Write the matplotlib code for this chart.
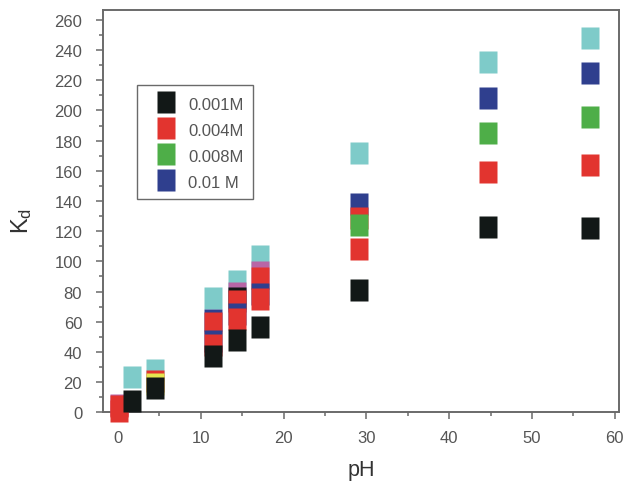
import numpy as np
import matplotlib
matplotlib.use("Agg")
import matplotlib.pyplot as plt
from matplotlib.lines import Line2D

plt.rcParams['font.family'] = ['Liberation Sans', 'DejaVu Sans']
plt.rcParams['mathtext.default'] = 'regular'

nan = np.nan
ph = [0.1, 1.7, 4.5, 11.5, 14.4, 17.2, 29.1, 44.7, 57.0]

# series in drawing order (later ones cover earlier ones)
cyan    = [nan, 23.5, 28, 75.6, 86.9, 103.4, 172, 232, 248]
magenta = [5, nan, nan, nan, 78.9, 92.8, nan, nan, nan]
dark    = [nan, nan, nan, nan, 75.6, nan, nan, nan, nan]
kd_010  = [nan, nan, nan, 61, nan, nan, 138, 208, 225]
red2    = [4, nan, 20.5, 59, 73.6, 88.9, 128.6, nan, nan]
blue2   = [nan, nan, nan, 47, 65, 78.2, nan, nan, nan]
yellow  = [nan, nan, 18.5, nan, nan, nan, nan, nan, nan]
kd_008  = [nan, nan, nan, nan, nan, nan, 124, 185, 196]
kd_004  = [1, nan, nan, 44.4, 61.7, 75, 108, 159, 164]
kd_001  = [nan, 7.3, 16.3, 37.5, 47.7, 56.7, 81, 123, 122]

c_black = '#121817'
c_red = '#e2342f'
c_green = '#4eae48'
c_blue = '#2f3f8e'
c_cyan = '#7ecbc9'
c_mag = '#b866a6'
c_yel = '#e4e650'

series = [
    (cyan, c_cyan), (magenta, c_mag), (dark, c_black), (kd_010, c_blue),
    (red2, c_red), (blue2, c_blue), (yellow, c_yel), (kd_008, c_green),
    (kd_004, c_red), (kd_001, c_black),
]

rect = [(-0.41, -0.5), (0.41, -0.5), (0.41, 0.5), (-0.41, 0.5), (-0.41, -0.5)]
ms = 15.8

fig = plt.figure(figsize=(6.24, 4.85), dpi=100)
ax = fig.add_axes([0.165, 0.148, 0.827, 0.829])

for vals, col in series:
    ax.plot(ph, vals, ls='none', marker=rect, ms=ms, mfc=col, mec='none',
            clip_on=False, zorder=3)

ax.set_xlim(-1.8, 60.5)
ax.set_ylim(0, 266.5)
ax.set_xticks(range(0, 61, 10))
ax.set_xticks(range(0, 61, 5), minor=True)
ax.set_yticks(range(0, 261, 20))
ax.set_yticks(range(0, 261, 10), minor=True)

gray = '#6a6a6a'
for s in ax.spines.values():
    s.set_color(gray)
    s.set_linewidth(1.4)
ax.tick_params(which='both', direction='out', color=gray, width=1.1,
               labelsize=12, labelcolor='#555555')
ax.tick_params(which='major', length=5)
ax.tick_params(which='minor', length=3)
ax.tick_params(axis='y', which='major', pad=10)
ax.tick_params(axis='x', which='major', pad=8)

ax.set_xlabel('pH', fontsize=15.5, color='#333333', labelpad=10)
ax.set_ylabel('K$_d$', fontsize=17, color='#333333')
ax.yaxis.set_label_coords(-0.134, 0.478)

labels = ['0.001M', '0.004M', '0.008M', '0.01 M']
cols = [c_black, c_red, c_green, c_blue]
handles = [Line2D([], [], ls='none', marker=rect, ms=ms, mfc=c, mec='none')
           for c in cols]
leg = ax.legend(handles, labels, loc='upper left', bbox_to_anchor=(0.066, 0.813),
                borderaxespad=0, fancybox=False, framealpha=1, fontsize=12,
                labelspacing=0.5, handlelength=2.4, handleheight=1.25,
                handletextpad=0.12, borderpad=0.55, labelcolor='#555555')
leg.get_frame().set_edgecolor(gray)
leg.get_frame().set_linewidth(1.0)

fig.savefig('out.png', dpi=100)
